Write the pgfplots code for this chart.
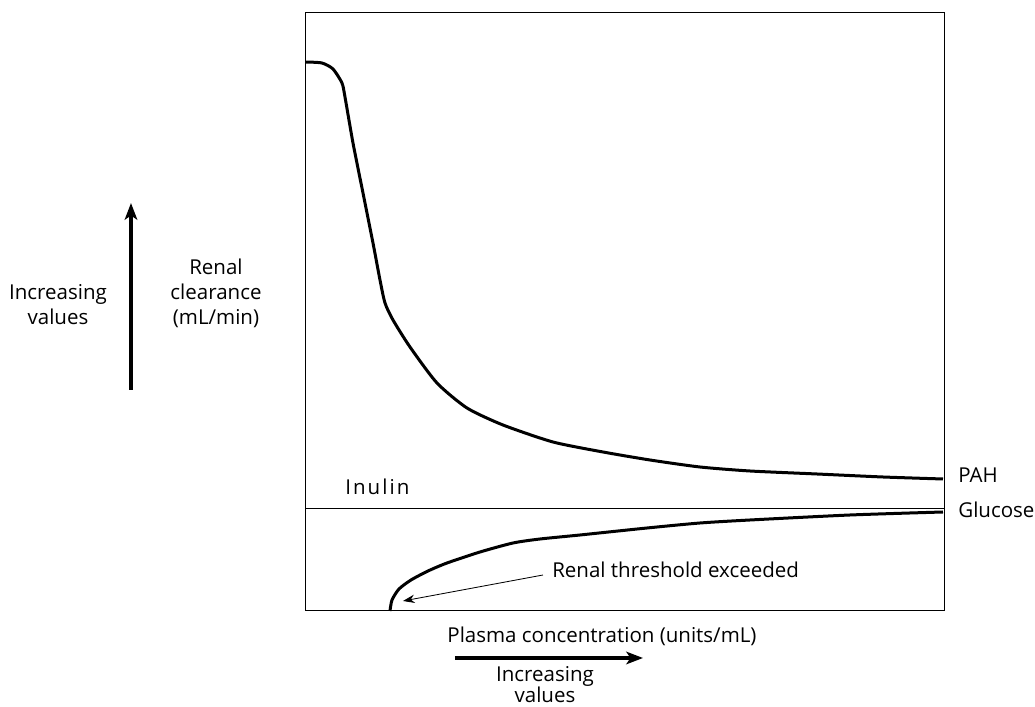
\documentclass[border=0pt]{standalone}
\usepackage{pgfplots}
\pgfplotsset{compat=1.18}
\usepackage{fontspec}
\setmainfont{Open Sans}
\usetikzlibrary{arrows.meta}

% curves, in its pixel frame (x right, y down)
\pgfplotstableread{
x y
306 62
322 63
333 69
342 83
345 97
353 143
363 193
373 243
380 280
385 303
393 320
410 347
437 383
467 408
503 425
553 442
603 452
650 460
700 467
750 471
817 474
883 477
943 479
}\pah

\pgfplotstableread{
x y
390 611
392 600
399 589
411 580
428 571
447 563
480 552
513 543
540 539
580 535
647 528
700 523
750 520
850 515
943 512
}\glucose

\begin{document}
\begin{tikzpicture}[font=\fontsize{12.3}{15}\selectfont]
\begin{axis}[
    scale only axis,
    width=383.4pt, height=359.4pt,
    xmin=306, xmax=945,
    ymin=12, ymax=611,
    y dir=reverse,
    xtick=\empty, ytick=\empty,
    axis line style={line width=0.6pt},
    clip=false,
  ]
  % invisible frame giving the whole picture its size
  \path (axis cs:0,0) rectangle (axis cs:1035,707);

  \addplot[line width=1.8pt, smooth, tension=0.4] table[x=x, y=y] {\pah};
  \addplot[line width=1.8pt, smooth, tension=0.4] table[x=x, y=y] {\glucose};
  % inulin
  \addplot[line width=0.6pt] coordinates {(306,509) (945,509)};

  \node[anchor=base west, inner sep=0pt] at (axis cs:345,495) {\addfontfeature{LetterSpace=10}Inulin};
  \node[anchor=base west, inner sep=0pt] at (axis cs:958,483) {PAH};
  \node[anchor=base west, inner sep=0pt] at (axis cs:958,518) {Glucose};
  \node[anchor=base west, inner sep=0pt] at (axis cs:552,578) {Renal threshold exceeded};
  \draw[-{Stealth[length=7pt,width=5pt]}, line width=0.5pt]
    (axis cs:543,575) -- (axis cs:403,601);

  \node[anchor=base, inner sep=0pt] at (axis cs:216,275) {Renal};
  \node[anchor=base, inner sep=0pt] at (axis cs:216,300) {clearance};
  \node[anchor=base, inner sep=0pt] at (axis cs:216,325) {(mL/min)};
  \node[anchor=base, inner sep=0pt] at (axis cs:58,300) {Increasing};
  \node[anchor=base, inner sep=0pt] at (axis cs:58,325) {values};
  \draw[-{Stealth[length=10pt,width=7.5pt,inset=2.5pt]}, line width=2pt]
    (axis cs:131,390) -- (axis cs:131,203);

  \node[anchor=base, inner sep=0pt] at (axis cs:602,643) {Plasma concentration (units/mL)};
  \draw[-{Stealth[length=10pt,width=7.5pt,inset=2.5pt]}, line width=2pt]
    (axis cs:455,658) -- (axis cs:643,658);
  \node[anchor=base, inner sep=0pt] at (axis cs:545,682) {Increasing};
  \node[anchor=base, inner sep=0pt] at (axis cs:545,703) {values};
\end{axis}
\end{tikzpicture}
\end{document}
